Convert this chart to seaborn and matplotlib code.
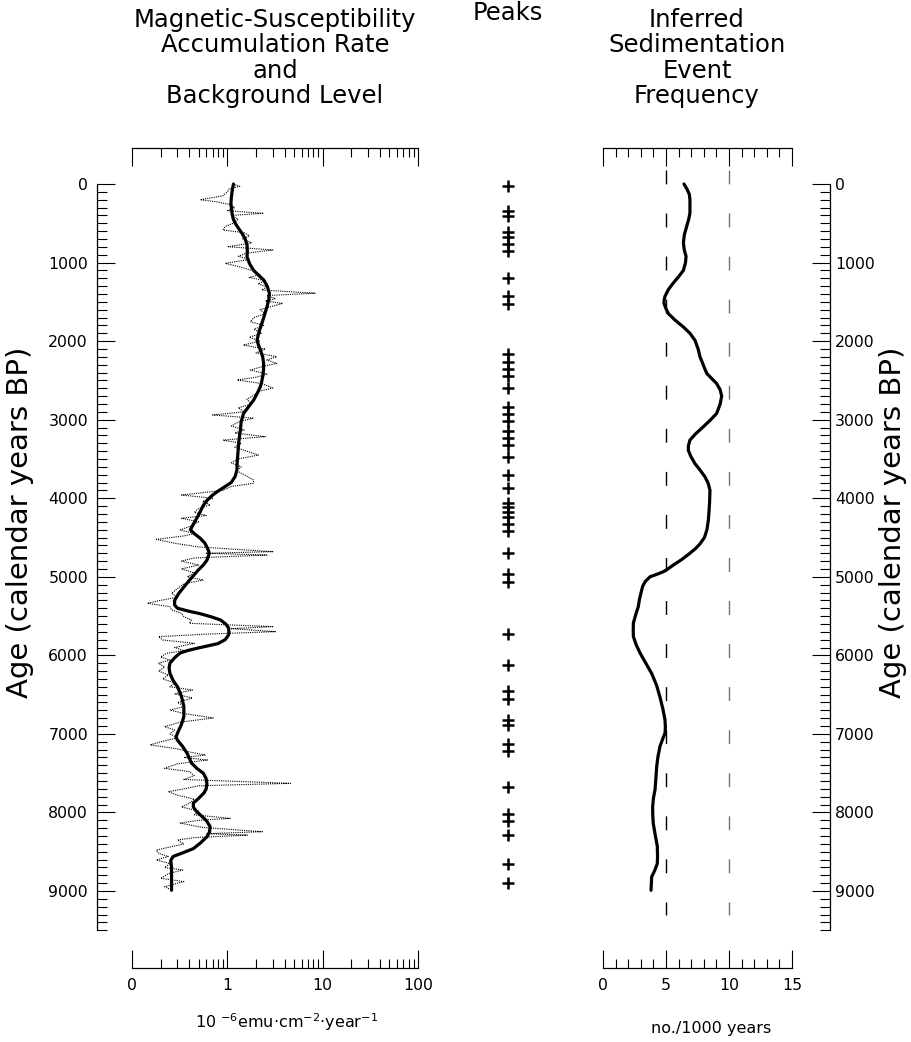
import numpy as np
import pandas as pd
import matplotlib
matplotlib.use("Agg")
import matplotlib.pyplot as plt
import seaborn as sns
from matplotlib.ticker import MultipleLocator, LogLocator, NullFormatter, FixedLocator

# Background level (thick smoothed line), 10^-6 emu cm^-2 yr^-1
bg_age = [0, 100, 180, 250, 370, 440, 500, 570, 630, 700, 780, 850, 930, 1020, 1100,
          1160, 1220, 1300, 1390, 1470, 1560, 1670, 1770, 1880, 1990, 2050, 2110,
          2200, 2280, 2360, 2450, 2520, 2580, 2660, 2750, 2840, 2920, 3020, 3130,
          3280, 3430, 3540, 3640, 3720, 3800, 3850, 3900, 3960, 4020, 4090, 4170,
          4250, 4330, 4400, 4450, 4510, 4570, 4620, 4680, 4720, 4790, 4850, 4920,
          5000, 5060, 5130, 5210, 5300, 5360, 5400, 5440, 5470, 5510, 5550, 5600,
          5650, 5700, 5740, 5800, 5850, 5880, 5910, 5940, 5970, 6030, 6100, 6160,
          6230, 6320, 6400, 6520, 6650, 6720, 6780, 6880, 6990, 7040, 7080, 7160,
          7250, 7310, 7370, 7440, 7500, 7570, 7630, 7700, 7750, 7820, 7880, 7930,
          7980, 8030, 8100, 8180, 8250, 8310, 8390, 8460, 8520, 8560, 8610, 8700,
          8800, 8900, 8990]
bg_val = [1.16, 1.12, 1.10, 1.09, 1.12, 1.15, 1.21, 1.32, 1.43, 1.54, 1.61, 1.62,
          1.61, 1.72, 1.89, 2.12, 2.40, 2.62, 2.76, 2.72, 2.61, 2.45, 2.31, 2.15,
          2.05, 2.12, 2.22, 2.35, 2.40, 2.40, 2.35, 2.29, 2.22, 2.07, 1.89, 1.66,
          1.48, 1.40, 1.37, 1.32, 1.29, 1.27, 1.26, 1.21, 1.10, 0.95, 0.82, 0.70,
          0.62, 0.56, 0.52, 0.48, 0.44, 0.41, 0.45, 0.52, 0.58, 0.61, 0.64, 0.64,
          0.61, 0.56, 0.49, 0.43, 0.39, 0.35, 0.31, 0.28, 0.28, 0.30, 0.40, 0.52,
          0.68, 0.85, 0.96, 1.03, 1.04, 1.03, 0.95, 0.80, 0.62, 0.48, 0.38, 0.32,
          0.28, 0.25, 0.245, 0.25, 0.27, 0.30, 0.33, 0.35, 0.35, 0.35, 0.33, 0.30,
          0.29, 0.30, 0.34, 0.38, 0.40, 0.42, 0.48, 0.56, 0.60, 0.61, 0.60, 0.57,
          0.50, 0.44, 0.44, 0.47, 0.52, 0.60, 0.66, 0.65, 0.61, 0.52, 0.44, 0.33,
          0.27, 0.255, 0.26, 0.26, 0.26, 0.26]

# Accumulation rate (thin dotted line)
rate_age = [0, 30, 60, 100, 150, 200, 230, 260, 300, 340, 373, 400, 450, 500, 540,
            585, 620, 660, 700, 750, 798, 840, 880, 920, 960, 1010, 1050, 1100,
            1150, 1190, 1230, 1270, 1310, 1350, 1390, 1420, 1460, 1490, 1520, 1560,
            1600, 1650, 1700, 1753, 1800, 1850, 1900, 1950, 2000, 2050, 2100, 2150,
            2199, 2240, 2283, 2320, 2368, 2420, 2460, 2495, 2540, 2597, 2640, 2690,
            2740, 2800, 2850, 2900, 2940, 2980, 3030, 3080, 3130, 3170, 3216, 3260,
            3300, 3350, 3400, 3450, 3500, 3550, 3600, 3650, 3700, 3768, 3810, 3850,
            3900, 3959, 4000, 4040, 4086, 4130, 4180, 4220, 4255, 4300, 4350, 4404,
            4450, 4480, 4523, 4573, 4620, 4680, 4700, 4723, 4760, 4800, 4850, 4900,
            4950, 5000, 5041, 5090, 5150, 5210, 5260, 5300, 5337, 5380, 5422, 5465,
            5507, 5550, 5592, 5634, 5660, 5698, 5730, 5762, 5804, 5847, 5900, 5940,
            5974, 6020, 6060, 6100, 6150, 6200, 6250, 6300, 6350, 6400, 6441, 6490,
            6543, 6600, 6650, 6696, 6740, 6797, 6850, 6908, 6950, 7000, 7050, 7100,
            7140, 7190, 7230, 7268, 7300, 7332, 7380, 7438, 7480, 7530, 7580, 7629,
            7660, 7700, 7735, 7780, 7830, 7884, 7930, 7980, 8030, 8075, 8100, 8135,
            8190, 8245, 8270, 8288, 8320, 8350, 8400, 8440, 8478, 8520, 8560, 8605,
            8650, 8700, 8732, 8780, 8838, 8880, 8944, 8990]
rate_val = [1.15, 1.35, 1.05, 1.0, 0.9, 0.52, 0.8, 1.05, 1.2, 1.0, 2.4, 1.1, 1.3,
            1.15, 0.95, 0.9, 1.5, 1.7, 1.45, 1.8, 1.02, 3.0, 1.6, 1.3, 1.7, 0.95,
            1.3, 1.8, 2.2, 1.7, 2.5, 2.1, 2.6, 2.3, 8.4, 2.6, 3.2, 2.5, 3.8, 2.9,
            2.2, 2.5, 1.9, 1.74, 2.4, 1.9, 2.3, 1.7, 2.2, 1.47, 2.5, 2.0, 3.3, 2.6,
            3.3, 2.4, 1.74, 2.6, 2.0, 1.27, 2.3, 3.0, 2.1, 1.9, 1.6, 1.8, 1.3, 1.5,
            0.70, 1.88, 1.3, 1.1, 1.5, 1.2, 2.5, 0.9, 1.4, 1.2, 1.6, 2.12, 1.3, 1.1,
            1.4, 1.25, 1.5, 1.88, 1.88, 1.1, 0.9, 0.33, 0.7, 0.55, 0.66, 0.5, 0.45,
            0.6, 0.33, 0.5, 0.42, 0.32, 0.45, 0.35, 0.18, 0.28, 0.5, 3.0, 0.6, 2.6,
            0.45, 0.33, 0.5, 0.33, 0.45, 0.38, 0.56, 0.35, 0.3, 0.26, 0.3, 0.2,
            0.145, 0.25, 0.26, 0.33, 0.35, 0.42, 0.40, 3.0, 1.1, 3.2, 0.6, 0.19,
            0.21, 0.45, 0.28, 0.35, 0.23, 0.2, 0.25, 0.19, 0.22, 0.19, 0.24, 0.21,
            0.28, 0.25, 0.43, 0.28, 0.43, 0.30, 0.36, 0.25, 0.35, 0.71, 0.32, 0.22,
            0.28, 0.25, 0.3, 0.2, 0.155, 0.3, 0.4, 0.59, 0.35, 0.62, 0.3, 0.22, 0.4,
            0.45, 0.35, 4.6, 0.5, 0.35, 0.24, 0.3, 0.45, 0.4, 0.33, 0.5, 0.45, 1.07,
            0.5, 0.32, 0.55, 2.33, 0.6, 1.62, 0.45, 0.30, 0.35, 0.25, 0.18, 0.19,
            0.24, 0.18, 0.25, 0.22, 0.34, 0.24, 0.2, 0.35, 0.22, 0.26]

# Peak ages (calendar years BP)
peak_age = [30, 340, 410, 610, 675, 765, 855, 1195, 1420, 1525, 2165, 2260, 2350,
            2440, 2600, 2835, 2930, 3020, 3140, 3230, 3325, 3475, 3700, 3870, 4055,
            4115, 4175, 4240, 4330, 4420, 4695, 4970, 5060, 5730, 6125, 6460, 6550,
            6825, 6885, 7130, 7220, 7680, 8015, 8105, 8290, 8655, 8895]

# Inferred sedimentation event frequency (no./1000 years)
freq_age = [0, 60, 130, 200, 370, 450, 540, 650, 750, 840, 920, 1000, 1100, 1180,
            1260, 1340, 1430, 1480, 1520, 1580, 1650, 1730, 1820, 1900, 1990, 2100,
            2200, 2300, 2410, 2480, 2540, 2620, 2700, 2800, 2920, 3000, 3090, 3180,
            3260, 3330, 3390, 3470, 3560, 3640, 3730, 3810, 3900, 4050, 4200, 4280,
            4400, 4500, 4580, 4640, 4700, 4780, 4850, 4900, 4935, 4970, 5000, 5060,
            5120, 5170, 5280, 5380, 5490, 5590, 5680, 5760, 5860, 5970, 6100, 6230,
            6380, 6530, 6680, 6820, 6920, 6990, 7080, 7160, 7300, 7420, 7560, 7710,
            7820, 7930, 8040, 8140, 8290, 8430, 8560, 8650, 8740, 8820, 8900, 8990]
freq_val = [6.43, 6.65, 6.85, 6.90, 6.90, 6.80, 6.64, 6.45, 6.38, 6.45, 6.59, 6.55,
            6.38, 6.00, 5.58, 5.20, 4.92, 4.85, 4.84, 4.98, 5.19, 5.70, 6.38, 6.90,
            7.30, 7.55, 7.70, 7.95, 8.23, 8.65, 9.02, 9.30, 9.42, 9.30, 9.02, 8.55,
            7.96, 7.35, 6.90, 6.78, 6.77, 6.98, 7.30, 7.70, 8.10, 8.35, 8.49, 8.46,
            8.40, 8.36, 8.25, 8.05, 7.70, 7.35, 6.90, 6.25, 5.58, 5.15, 4.79, 4.25,
            3.73, 3.35, 3.15, 3.07, 2.90, 2.80, 2.58, 2.41, 2.40, 2.41, 2.62, 2.94,
            3.40, 3.86, 4.25, 4.52, 4.75, 4.92, 4.95, 4.92, 4.70, 4.52, 4.35, 4.26,
            4.20, 4.13, 4.00, 3.94, 3.95, 3.99, 4.15, 4.31, 4.33, 4.31, 4.10, 3.86,
            3.84, 3.81]

ref_levels = [5, 10]

sns.set_style("white")
plt.rcParams['font.family'] = ['DejaVu Sans']
for k in ['text.color', 'axes.labelcolor', 'xtick.color', 'ytick.color', 'axes.edgecolor']:
    plt.rcParams[k] = 'black'

W, H = 911, 1042
fig = plt.figure(figsize=(W / 100, H / 100), dpi=100)

top_px, bot_px = 148, 968
age0_px, px_per_kyr = 184, 78.56
ylim = ((bot_px - age0_px) / px_per_kyr * 1000, (top_px - age0_px) / px_per_kyr * 1000)

age_major = list(range(0, 9001, 1000))
age_minor = [a for a in range(100, 9501, 100) if a % 1000]


def panel(x0, x1):
    return fig.add_axes([x0 / W, 1 - bot_px / H, (x1 - x0) / W, (bot_px - top_px) / H])


ax1 = panel(132, 418)
ax2 = panel(488, 528)
ax3 = panel(603, 792)
for ax in (ax1, ax2, ax3):
    ax.set_ylim(*ylim)
    ax.set_facecolor('none')

TICK = 11.3
MAJ, MIN = 13, 6.5

# ---- left panel
sns.lineplot(x=rate_val, y=rate_age, ax=ax1, orient='y', sort=False, estimator=None,
             color='black', lw=0.8, linestyle=(0, (1, 1)))
sns.lineplot(x=bg_val, y=bg_age, ax=ax1, orient='y', sort=False, estimator=None,
             color='black', lw=2.3)
ax1.set_xscale('log')
ax1.set_xlim(0.1, 100)
ax1.set_xticks([0.1, 1, 10, 100], labels=['0', '1', '10', '100'])
ax1.xaxis.set_minor_locator(LogLocator(base=10, subs=range(2, 10)))
ax1.xaxis.set_minor_formatter(NullFormatter())
ax1.spines['right'].set_visible(False)
ax1.spines['left'].set_position(('outward', 35 * 0.72))
ax1.spines['left'].set_bounds(0, 9500)
ax1.tick_params(axis='y', which='both', left=True, right=False, labelleft=True)

# ---- right panel
for lvl, col in zip(ref_levels, ['black', '0.45']):
    ax3.plot([lvl, lvl], [-180, 9300], color=col, lw=1.0, linestyle=(0, (10, 21)))
sns.lineplot(x=freq_val, y=freq_age, ax=ax3, orient='y', sort=False, estimator=None,
             color='black', lw=2.3)
ax3.set_xlim(0, 15)
ax3.set_xticks([0, 5, 10, 15])
ax3.xaxis.set_minor_locator(MultipleLocator(1))
ax3.spines['left'].set_visible(False)
ax3.yaxis.tick_right()
ax3.spines['right'].set_position(('outward', 38 * 0.72))
ax3.spines['right'].set_bounds(0, 9500)

for ax in (ax1, ax3):
    ax.set_ylim(*ylim)
    ax.set_xlabel('')
    ax.set_ylabel('')
    ax.yaxis.set_major_locator(FixedLocator(age_major))
    ax.yaxis.set_minor_locator(FixedLocator(age_minor))
    ax.tick_params(axis='x', which='both', direction='in', top=True, bottom=True,
                   labeltop=False, labelbottom=True, width=0.8, labelsize=TICK, pad=7)
    ax.tick_params(axis='x', which='major', length=MAJ)
    ax.tick_params(axis='x', which='minor', length=MIN)
    ax.tick_params(axis='y', which='both', direction='in', width=0.8, labelsize=TICK)
    ax.tick_params(axis='y', which='major', length=MAJ)
    ax.tick_params(axis='y', which='minor', length=7)
    for s in ax.spines.values():
        s.set_linewidth(0.9)
ax1.tick_params(axis='y', pad=6.5)
ax3.tick_params(axis='y', pad=3.6)

# ---- peaks column
sns.scatterplot(x=[0.5] * len(peak_age), y=peak_age, ax=ax2, marker='+', s=70,
                color='black', linewidth=1.8)
ax2.set_xlim(0, 1)
ax2.set_ylim(*ylim)
ax2.axis('off')

# ---- text
TT = 17.5
for i, line in enumerate(['Magnetic-Susceptibility', 'Accumulation Rate', 'and',
                          'Background Level']):
    fig.text(275 / W, 1 - (27 + 25.5 * i) / H, line, ha='center', va='baseline', fontsize=TT)
for i, line in enumerate(['Inferred', 'Sedimentation', 'Event', 'Frequency']):
    fig.text(697 / W, 1 - (27 + 25.5 * i) / H, line, ha='center', va='baseline', fontsize=TT)
fig.text(508 / W, 1 - 20 / H, 'Peaks', ha='center', va='baseline', fontsize=TT)

fig.text(20 / W, 1 - 522 / H, 'Age (calendar years BP)', rotation=90, ha='center',
         va='center', fontsize=21)
fig.text(893 / W, 1 - 522 / H, 'Age (calendar years BP)', rotation=90, ha='center',
         va='center', fontsize=21)

fig.text(287 / W, 1 - 1028 / H, '10 $^{-6}$emu·cm$^{-2}$·year$^{-1}$', ha='center',
         va='baseline', fontsize=11.5)
fig.text(711 / W, 1 - 1033 / H, 'no./1000 years', ha='center', va='baseline', fontsize=11.5)

fig.savefig('out.png', dpi=100, facecolor='white')
